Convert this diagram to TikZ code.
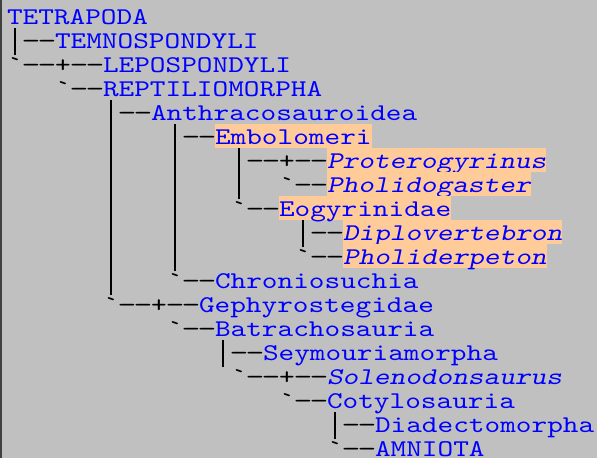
\documentclass[tikz,border=0pt]{standalone}
\usepackage{fontspec}
\setmonofont{lmmono10-regular.otf}[FakeStretch=1.243, ItalicFont=lmmono10-regular.otf, ItalicFeatures={FakeSlant=0.21}]
\definecolor{cladeblue}{RGB}{0,0,255}
\definecolor{peach}{RGB}{255,204,153}
\definecolor{bggray}{RGB}{192,192,192}
\newcommand\cladefnt{\ttfamily\fontsize{24pt}{24pt}\selectfont}
\newcommand\cbox[1]{\makebox[16pt][c]{#1}}
\newcommand\cdash{\cbox{\scalebox{1.2}[1]{-}}}
\newcommand\cbar{\cbox{\rule[-7pt]{1.4pt}{27.5pt}}}
\newcommand\Vdd{\cbar\cdash\cdash}
\newcommand\Tdd{\cbox{\char96}\cdash\cdash}
\newcommand\Pdd{\cbox{+}\cdash\cdash}
\newcommand\Vb{\cbar}
\tikzset{
  nm/.style={anchor=base west, inner sep=0pt, text=cladeblue, font=\cladefnt},
  hl/.style={nm, fill=peach, text height=20.5pt, text depth=3.5pt},
  it/.style={font=\cladefnt\itshape},
  cn/.style={anchor=base west, inner sep=0pt, text=black, font=\cladefnt},
}
\begin{document}
\begin{tikzpicture}[x=1pt,y=-1pt]
\useasboundingbox (0,0) rectangle (597,458);
\fill[bggray] (0,0) rectangle (597,458);
\draw[line width=1.5pt, black!75] (0.75,0) -- (0.75,458);
% row 1
\node[nm] (tetrapoda) at (6.8,24) {TETRAPODA};
% row 2
\node[cn] (c2a) at (6.8,48) {\Vdd};
\node[nm] (temno) at (54.8,48) {TEMNOSPONDYLI};
% row 3
\node[cn] (c3a) at (6.8,72) {\Tdd\Pdd};
\node[nm] (lepo) at (102.8,72) {LEPOSPONDYLI};
% row 4
\node[cn] (c4a) at (54.8,96) {\Tdd};
\node[nm] (repti) at (102.8,96) {REPTILIOMORPHA};
% row 5
\node[cn] (c5a) at (102.8,120) {\Vdd};
\node[nm] (anthra) at (150.8,120) {Anthracosauroidea};
% row 6
\node[cn] (c6a) at (102.8,144) {\Vb};
\node[cn] (c6b) at (166.8,144) {\Vdd};
\node[hl] (embolo) at (214.8,144) {Embolomeri};
% row 7
\node[cn] (c7a) at (102.8,168) {\Vb};
\node[cn] (c7b) at (166.8,168) {\Vb};
\node[cn] (c7c) at (230.8,168) {\Vdd\Pdd};
\node[hl,it] (protero) at (326.8,168) {Proterogyrinus};
% row 8
\node[cn] (c8a) at (102.8,192) {\Vb};
\node[cn] (c8b) at (166.8,192) {\Vb};
\node[cn] (c8c) at (230.8,192) {\Vb};
\node[cn] (c8d) at (278.8,192) {\Tdd};
\node[hl,it] (pholido) at (326.8,192) {Pholidogaster};
% row 9
\node[cn] (c9a) at (102.8,216) {\Vb};
\node[cn] (c9b) at (166.8,216) {\Vb};
\node[cn] (c9c) at (230.8,216) {\Tdd};
\node[hl] (eogyr) at (278.8,216) {Eogyrinidae};
% row 10
\node[cn] (c10a) at (102.8,240) {\Vb};
\node[cn] (c10b) at (166.8,240) {\Vb};
\node[cn] (c10c) at (294.8,240) {\Vdd};
\node[hl,it] (diplo) at (342.8,240) {Diplovertebron};
% row 11
\node[cn] (c11a) at (102.8,264) {\Vb};
\node[cn] (c11b) at (166.8,264) {\Vb};
\node[cn] (c11c) at (294.8,264) {\Tdd};
\node[hl,it] (pholider) at (342.8,264) {Pholiderpeton};
% row 12
\node[cn] (c12a) at (102.8,288) {\Vb};
\node[cn] (c12b) at (166.8,288) {\Tdd};
\node[nm] (chronio) at (214.8,288) {Chroniosuchia};
% row 13
\node[cn] (c13a) at (102.8,312) {\Tdd\Pdd};
\node[nm] (gephyro) at (198.8,312) {Gephyrostegidae};
% row 14
\node[cn] (c14a) at (166.8,336) {\Tdd};
\node[nm] (batracho) at (214.8,336) {Batrachosauria};
% row 15
\node[cn] (c15a) at (214.8,360) {\Vdd};
\node[nm] (seymour) at (262.8,360) {Seymouriamorpha};
% row 16
\node[cn] (c16a) at (230.8,384) {\Tdd\Pdd};
\node[nm,it] (soleno) at (326.8,384) {Solenodonsaurus};
% row 17
\node[cn] (c17a) at (278.8,408) {\Tdd};
\node[nm] (cotylo) at (326.8,408) {Cotylosauria};
% row 18
\node[cn] (c18a) at (326.8,432) {\Vdd};
\node[nm] (diadecto) at (374.8,432) {Diadectomorpha};
% row 19
\node[cn] (c19a) at (326.8,456) {\Tdd};
\node[nm] (amniota) at (374.8,456) {AMNIOTA};
\end{tikzpicture}
\end{document}
